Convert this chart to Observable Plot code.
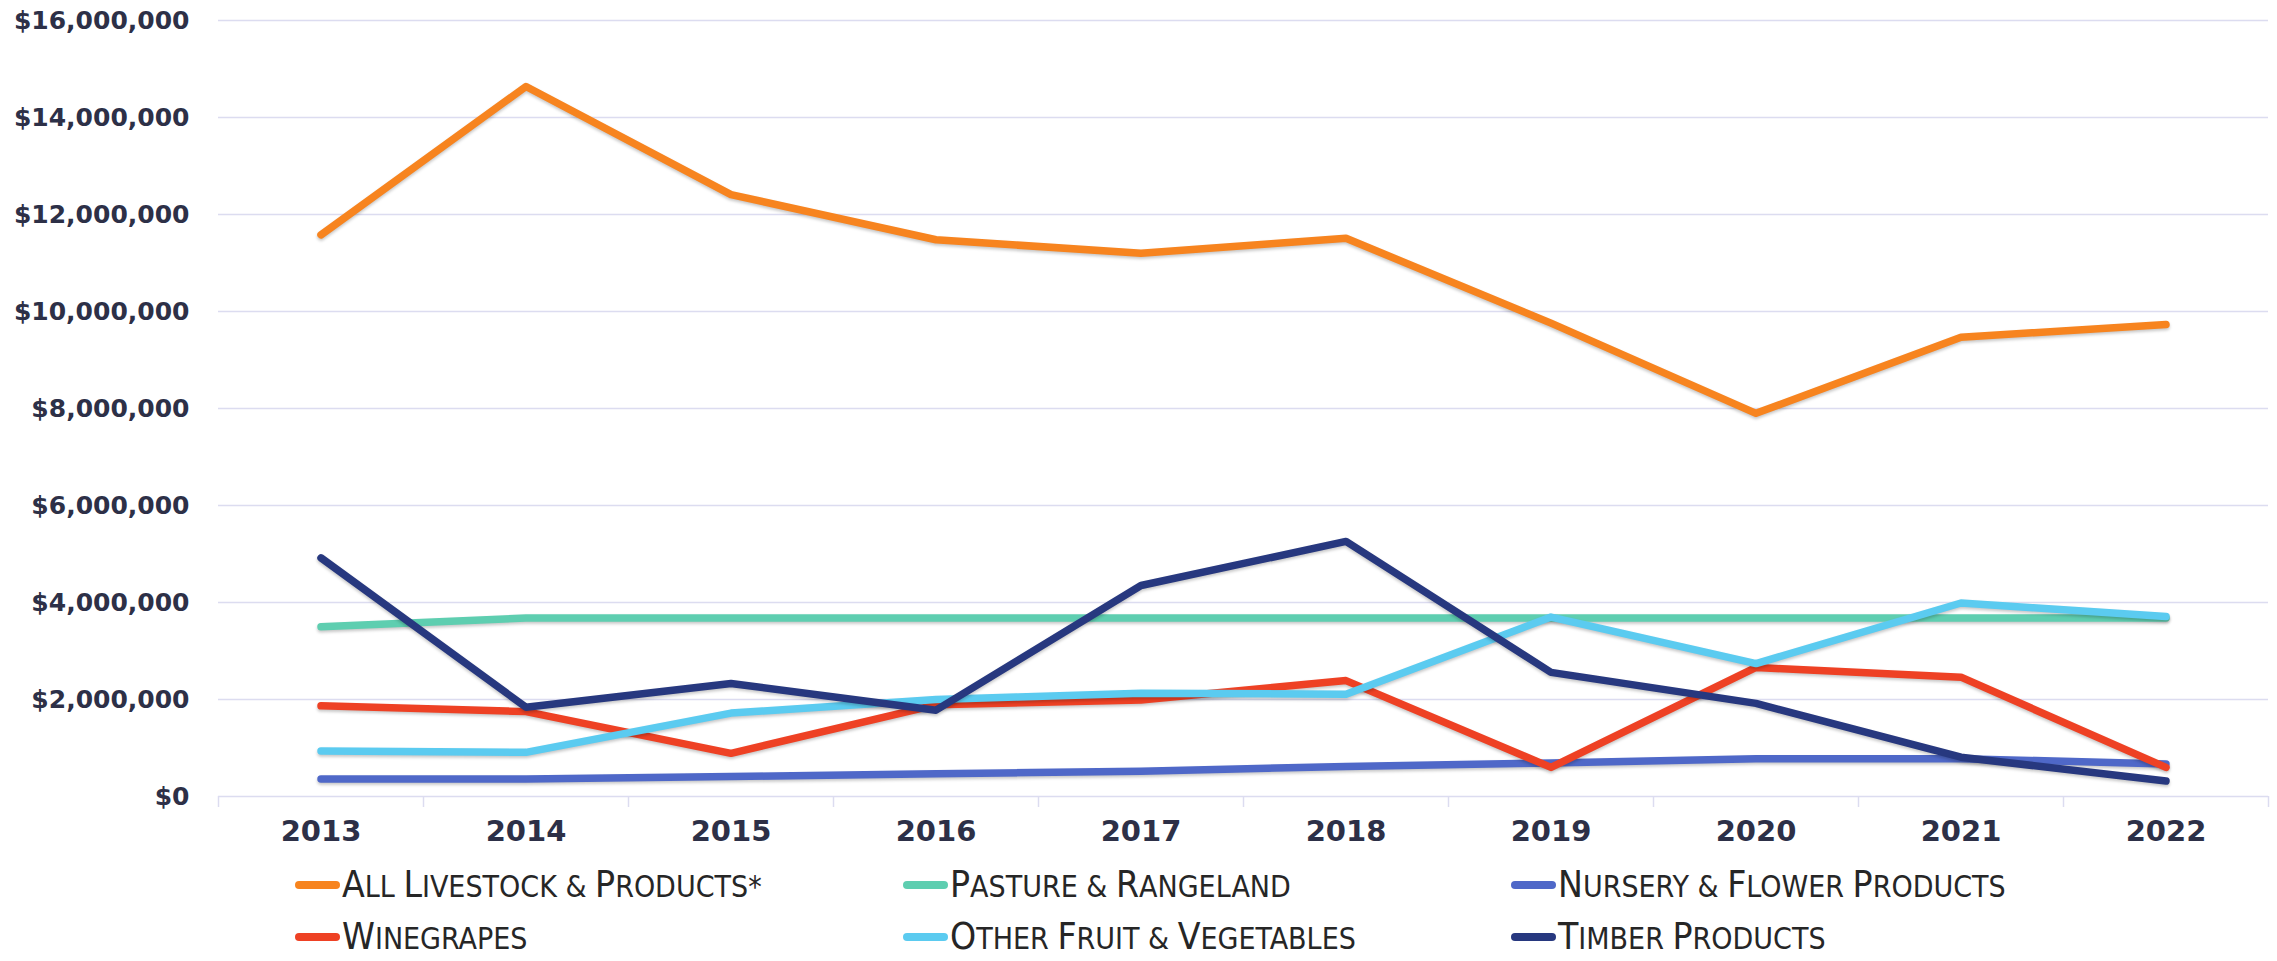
<!DOCTYPE html>
<html>
<head>
<meta charset="utf-8">
<script src="https://cdn.jsdelivr.net/npm/d3@7"></script>
<script src="https://cdn.jsdelivr.net/npm/@observablehq/plot@0.6"></script>
<style>
  body { margin: 0; background: #fff; }
  #chart { position: relative; width: 2277px; height: 961px; overflow: hidden; }
  .legend { position: absolute; left: 0; top: 860px; width: 2277px; height: 101px; }
  .item { position: absolute; display: flex; align-items: center; height: 34px; transform: translateY(-50%); }
  .sw { width: 45px; height: 8px; border-radius: 4px; margin-right: 2px; flex: none; }
  .lbl { font-family: "Liberation Sans Narrow", "DejaVu Sans Condensed", sans-serif; color: #262626; white-space: nowrap; line-height: 34px; height: 34px; }
  .big { font-size: 37px; }
  .small { font-size: 30px; }
  .shadowed path { filter: drop-shadow(0px 2px 1.5px rgba(0,0,0,0.22)); }
</style>
</head>
<body>
<div id="chart"></div>
<script>
const years = [2013, 2014, 2015, 2016, 2017, 2018, 2019, 2020, 2021, 2022];
const seriesNames = [
  "All Livestock & Products*",
  "Pasture & Rangeland",
  "Nursery & Flower Products",
  "Winegrapes",
  "Other Fruit & Vegetables",
  "Timber Products"
];
const livestock  = [11580000, 14640000, 12410000, 11480000, 11200000, 11510000, 9760000, 7900000, 9470000, 9730000];
const pasture    = [3500000, 3680000, 3680000, 3680000, 3680000, 3680000, 3680000, 3680000, 3680000, 3680000];
const nursery    = [360000, 360000, 410000, 470000, 520000, 620000, 690000, 780000, 780000, 670000];
const winegrapes = [1870000, 1750000, 890000, 1890000, 1990000, 2390000, 600000, 2660000, 2460000, 600000];
const otherFruit = [940000, 910000, 1720000, 2000000, 2130000, 2110000, 3700000, 2740000, 3990000, 3710000];
const timber     = [4920000, 1840000, 2330000, 1780000, 4350000, 5260000, 2560000, 1920000, 810000, 320000];
const colors = ["#F7841F", "#5ECEB0", "#4F68C8", "#EE4124", "#5BCBF0", "#27387F"];
const yTicks = [0, 2000000, 4000000, 6000000, 8000000, 10000000, 12000000, 14000000, 16000000];

const seriesValues = [livestock, pasture, nursery, winegrapes, otherFruit, timber];
const data = seriesNames.flatMap((name, i) =>
  years.map((year, j) => ({series: name, year, value: seriesValues[i][j]}))
);
const boundaries = d3.range(years.length + 1).map(i => years[0] - 0.5 + i);

const axisFont = "'DejaVu Sans', sans-serif";
const textColor = "#2d3047";
const gridColor = "#dcdcf0";

const plot = Plot.plot({
  width: 2277,
  height: 860,
  marginTop: 20,
  marginBottom: 64,
  marginLeft: 218,
  marginRight: 9,
  style: {fontFamily: axisFont, background: "white", overflow: "visible"},
  x: {domain: [years[0] - 0.5, years[years.length - 1] + 0.5], axis: null},
  y: {domain: [0, 16000000], axis: null},
  color: {domain: seriesNames, range: colors},
  marks: [
    Plot.gridY(yTicks, {stroke: gridColor, strokeOpacity: 1, strokeWidth: 1.5}),
    Plot.axisY(yTicks, {label: null, tickSize: 0, tickPadding: 29, tickFormat: d3.format("$,"), fontSize: 25, fontWeight: "bold", fill: textColor}),
    Plot.axisX(boundaries, {label: null, tickSize: 11, tickFormat: () => "", stroke: gridColor, strokeWidth: 1.5, strokeOpacity: 1}),
    Plot.axisX(years, {label: null, tickSize: 0, tickPadding: 24, tickFormat: d => String(d), fontSize: 29, fontWeight: "bold", fill: textColor}),
    Plot.line(data, {x: "year", y: "value", z: "series", stroke: "series", strokeWidth: 7.5, strokeLinecap: "round", strokeLinejoin: "round"})
  ]
});
plot.querySelectorAll('g[aria-label="line"]').forEach(g => g.classList.add("shadowed"));

const chart = document.getElementById("chart");
chart.appendChild(plot);

// Legend
const legend = document.createElement("div");
legend.className = "legend";
const colX = [295, 903, 1511];
const rowY = [25, 77];
function smallCaps(label) {
  const frag = document.createDocumentFragment();
  label.split(" ").forEach((word, wi) => {
    if (wi > 0) {
      const sp = document.createElement("span");
      sp.className = "small";
      sp.textContent = " ";
      frag.appendChild(sp);
    }
    const first = word[0];
    const rest = word.slice(1);
    const isLetter = /[A-Za-z]/.test(first);
    const a = document.createElement("span");
    a.className = isLetter && first === first.toUpperCase() ? "big" : "small";
    a.textContent = first.toUpperCase();
    frag.appendChild(a);
    if (rest) {
      const b = document.createElement("span");
      b.className = "small";
      b.textContent = rest.toUpperCase();
      frag.appendChild(b);
    }
  });
  return frag;
}
seriesNames.forEach((name, i) => {
  const item = document.createElement("div");
  item.className = "item";
  item.style.left = colX[i % 3] + "px";
  item.style.top = rowY[Math.floor(i / 3)] + "px";
  const sw = document.createElement("div");
  sw.className = "sw";
  sw.style.background = colors[i];
  const lbl = document.createElement("div");
  lbl.className = "lbl";
  lbl.appendChild(smallCaps(name));
  item.appendChild(sw);
  item.appendChild(lbl);
  legend.appendChild(item);
});
chart.appendChild(legend);
</script>
</body>
</html>
